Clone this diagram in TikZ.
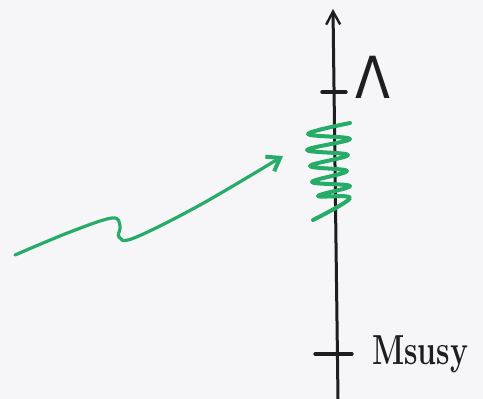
\documentclass[tikz,border=0pt]{standalone}
\usepackage{fontspec}
\newfontfamily\greekhand{DejaVu Sans}
\usetikzlibrary{arrows.meta}
\definecolor{paper}{RGB}{246,246,248}
\definecolor{pen}{RGB}{30,30,30}
\definecolor{marker}{RGB}{38,172,104}

\begin{document}
\begin{tikzpicture}[
  x=1pt, y=-1pt,
  axis/.style={draw=pen, line width=3pt, line cap=round,
               -{Straight Barb[length=13pt, width=14pt, line width=2.4pt]}},
  tick/.style={draw=pen, line width=3.4pt, line cap=round},
  mark label/.style={text=pen, inner sep=0pt},
  scribble/.style={draw=marker, line width=4pt, line cap=round, line join=round},
  flow/.style={draw=marker, line width=3.2pt, line cap=round,
               -{Straight Barb[length=12pt, width=17pt, line width=4pt]}}
]
\useasboundingbox[fill=paper] (0,0) rectangle (483,399);

% ---------------- energy axis ----------------
\coordinate (ybot) at (338,399);
\coordinate (ytop) at (333,9);
\draw[axis] (ybot) -- (ytop);

\coordinate (lamL) at (322,92);
\coordinate (lamR) at (346,92);
\draw[tick] (lamL) -- (lamR);
\node[mark label, anchor=base west, font=\greekhand\fontsize{58}{60}\selectfont] (lam) at (355,98) {\scalebox{0.88}[1]{Λ}};

\coordinate (susyL) at (315,354);
\coordinate (susyR) at (352,354);
\draw[tick] (susyL) -- (susyR);
\node[mark label, anchor=base west, font=\bfseries\fontsize{42}{44}\selectfont] (msusy) at (372,364) {\scalebox{0.72}[1]{Msusy}};

% ---------------- green band ----------------
\draw[scribble] plot[smooth, tension=0.6] coordinates {
  (350,123) (308,134) (350,139) (307,150) (348,155) (310,166)
  (347,171) (312,182) (350,186) (318,196) (350,198) (313,220)};

% ---------------- incoming arrow ----------------
\coordinate (src) at (15,255);
\coordinate (tgt) at (283,156);
\draw[flow] plot[smooth, tension=0.6] coordinates {
  (src) (70,232) (112,218) (120,226) (119,237) (134,238) (200,205) (tgt)};
\end{tikzpicture}
\end{document}
